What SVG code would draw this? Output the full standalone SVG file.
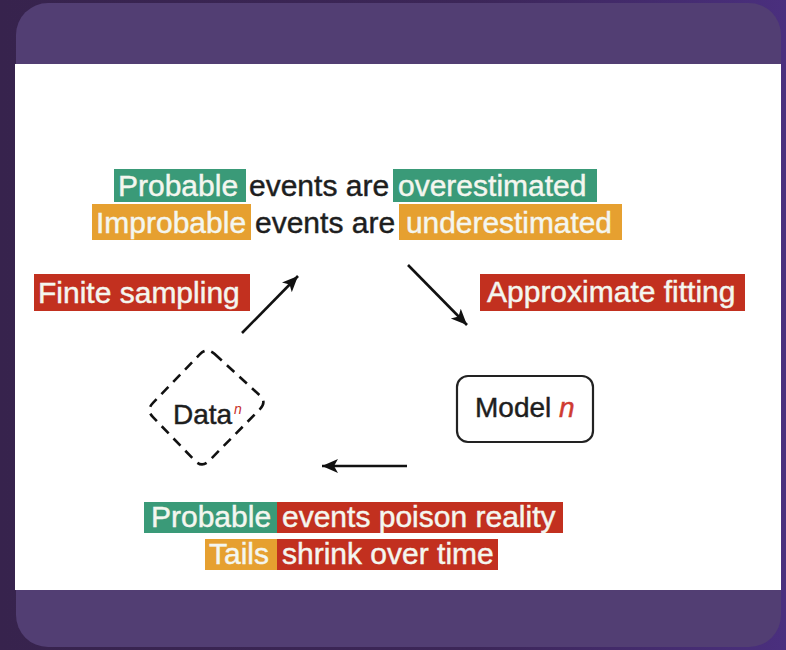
<svg xmlns="http://www.w3.org/2000/svg" width="786" height="650" viewBox="0 0 786 650">
  <defs>
    <linearGradient id="bg" x1="0" y1="0" x2="1" y2="0">
      <stop offset="0" stop-color="#37234d"/>
      <stop offset="0.6" stop-color="#3c2658"/>
      <stop offset="1" stop-color="#4a2f7e"/>
    </linearGradient>
    <marker id="head" markerUnits="userSpaceOnUse" markerWidth="18" markerHeight="16" refX="16" refY="7" orient="auto">
      <path d="M0,0 L16,7 L0,14 L4,7 Z" fill="#111"/>
    </marker>
    <style>
      .t { font-family: "Liberation Sans", Arial, sans-serif; font-size: 30px; stroke-width: 0.45px; }
      .dark { fill: #1e1e1e; stroke: #1e1e1e; }
      .light { fill: #f4f6ef; stroke: #f4f6ef; }
      .green { fill: #3a9a78; }
      .orange { fill: #e6a030; }
      .red { fill: #c2301f; }
      .conn { stroke: #111; stroke-width: 2.6; fill: none; marker-end: url(#head); }
    </style>
  </defs>

  <!-- backdrop and card -->
  <rect x="0" y="0" width="786" height="650" fill="url(#bg)"/>
  <rect x="16" y="3" width="765" height="644" rx="32" fill="#523e73"/>
  <rect x="15" y="64" width="766" height="526" fill="#ffffff"/>

  <!-- headline: two highlighted lines -->
  <g id="headline">
    <rect class="green" x="114" y="169" width="132" height="33"/>
    <text class="t light" x="118" y="196">Probable</text>
    <text class="t dark" x="249" y="196">events are</text>
    <rect class="green" x="393" y="169" width="204" height="33"/>
    <text class="t light" x="398" y="196">overestimated</text>

    <rect class="orange" x="92" y="204" width="159" height="36"/>
    <text class="t light" x="96" y="233">Improbable</text>
    <text class="t dark" x="255" y="233">events are</text>
    <rect class="orange" x="399" y="204" width="223" height="36"/>
    <text class="t light" x="406" y="233" textLength="206" lengthAdjust="spacingAndGlyphs">underestimated</text>
  </g>

  <!-- step labels -->
  <g id="finite-sampling">
    <rect class="red" x="34" y="274" width="216" height="37"/>
    <text class="t light" x="38" y="303">Finite sampling</text>
  </g>
  <g id="approximate-fitting">
    <rect class="red" x="480" y="274" width="265" height="37"/>
    <text class="t light" x="487" y="302">Approximate fitting</text>
  </g>

  <!-- data node: dashed rounded diamond -->
  <g id="data">
    <path d="M214.4 353.8 L259.6 395.2 Q267 402 260 409.1 L209 460.9 Q202 468 195 460.8 L153 417.2 Q146 410 153 402.8 L200 354.2 Q207 347 214.4 353.8 Z" fill="none" stroke="#111" stroke-width="2.6" stroke-dasharray="10 7"/>
    <text class="t dark" x="173" y="424" style="font-size:28px">Data</text>
    <text x="234" y="414" font-family="Liberation Sans, Arial, sans-serif" font-size="14" font-style="italic" fill="#c8302a">n</text>
  </g>

  <!-- model node -->
  <g id="model">
    <rect x="457" y="376" width="136" height="66" rx="11" fill="#ffffff" stroke="#222" stroke-width="2.2"/>
    <text class="t dark" x="475" y="417" style="font-size:28px">Model <tspan fill="#cf3b31" stroke="#cf3b31" font-style="italic">n</tspan></text>
  </g>

  <!-- consequences -->
  <g id="consequences">
    <rect class="green" x="144" y="502" width="133" height="31"/>
    <rect class="red" x="277" y="502" width="286" height="31"/>
    <text class="t light" x="151" y="527">Probable</text>
    <text class="t light" x="282" y="527">events poison reality</text>

    <rect class="orange" x="205" y="539" width="72" height="31"/>
    <rect class="red" x="277" y="539" width="221" height="31"/>
    <text class="t light" x="209" y="564">Tails</text>
    <text class="t light" x="282" y="564">shrink over time</text>
  </g>

  <!-- cycle arrows -->
  <g id="connectors">
    <line class="conn" x1="242" y1="333" x2="298" y2="276"/>
    <line class="conn" x1="408" y1="265" x2="467" y2="325"/>
    <line class="conn" x1="407" y1="466" x2="322" y2="466"/>
  </g>
</svg>
